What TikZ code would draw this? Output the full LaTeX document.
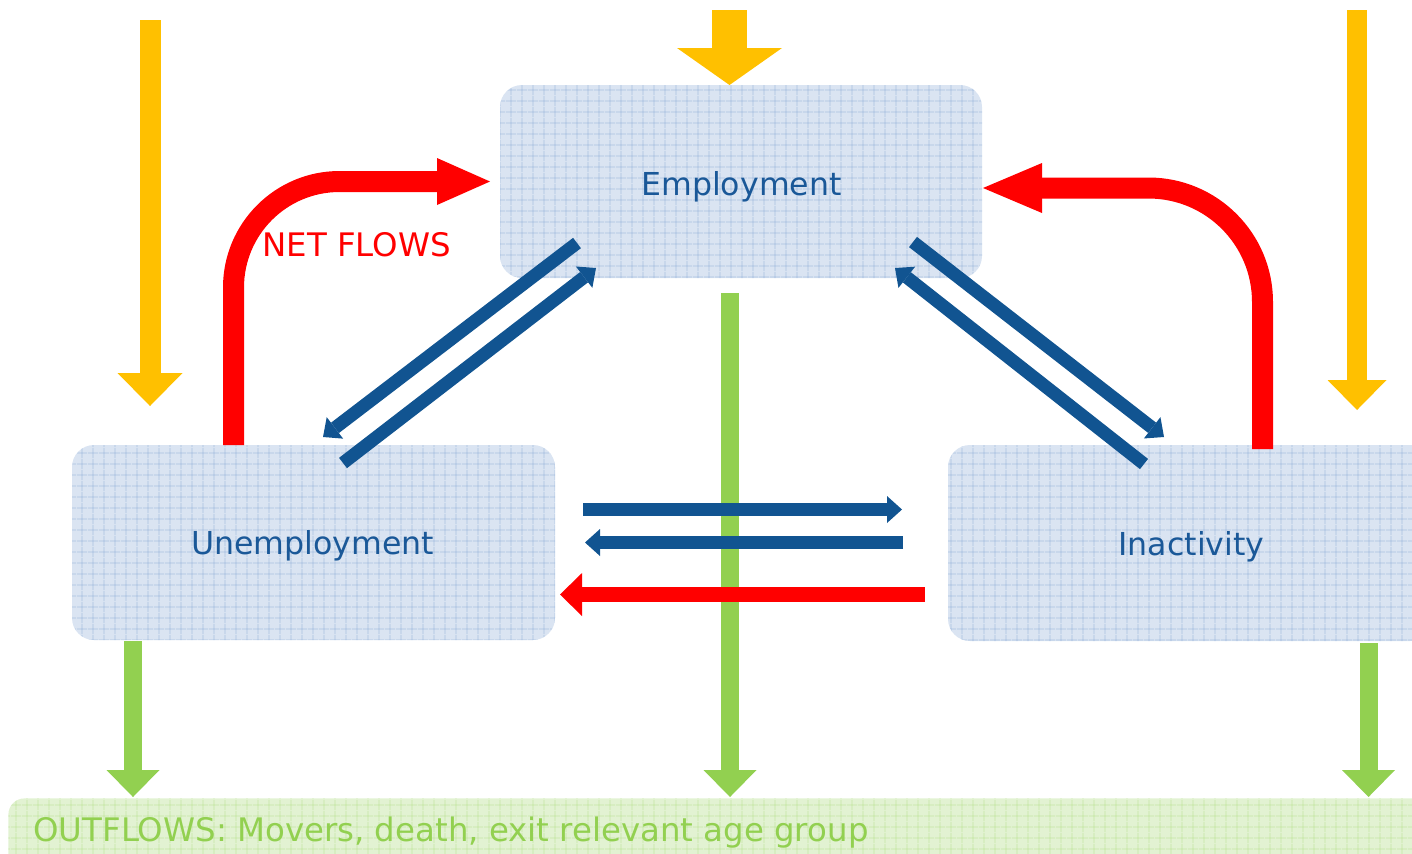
\documentclass[tikz,border=0pt]{standalone}
\usepackage{fontspec}
\setmainfont{DejaVu Sans}
\usetikzlibrary{arrows.meta,patterns.meta}

\definecolor{boxbase}{RGB}{218,228,242}
\definecolor{gridblue}{RGB}{168,192,224}
\definecolor{flowblue}{RGB}{17,84,145}
\definecolor{textblue}{RGB}{26,88,152}
\definecolor{inflow}{RGB}{255,192,0}
\definecolor{netred}{RGB}{255,0,0}
\definecolor{outgreen}{RGB}{146,208,80}
\definecolor{barbase}{RGB}{226,242,210}
\definecolor{gridgreen}{RGB}{196,230,162}

% fine grid texture used to fill the boxes
\tikzdeclarepattern{
  name=boxgrid,
  bottom left={(0pt,0pt)},
  top right={(5.5pt,5.5pt)},
  tile size={(5.5pt,5.5pt)},
  code={
    \draw[line width=0.4pt]
      (0pt,2.75pt) -- (5.5pt,2.75pt)
      (2.75pt,0pt) -- (2.75pt,5.5pt);
  }
}

\begin{document}
\begin{tikzpicture}[x=0.5pt,y=-0.5pt,
  state/.style={preaction={fill=boxbase}, pattern=boxgrid, pattern color=gridblue,
    draw=none, rounded corners=11pt, inner sep=0pt},
  statelabel/.style={anchor=base, text=textblue, inner sep=0pt,
    font=\fontsize{15.8}{19}\selectfont},
  outbar/.style={preaction={fill=barbase}, pattern=boxgrid, pattern color=gridgreen,
    draw=none, rounded corners=8pt, inner sep=0pt},
  % block arrows: thick shaft with a filled triangular head
  blockarrow/.style n args={4}{draw=#1, line width=#2,
    -{Triangle[length=#3, width=#4, line width=0pt]}},
  flow/.style={blockarrow={flowblue}{6.5pt}{7.5pt}{13.5pt}},
  inarrow/.style={blockarrow={inflow}{10.5pt}{16.5pt}{32.5pt}},
  outarrow/.style={blockarrow={outgreen}{9pt}{13.5pt}{26.5pt}},
]
\useasboundingbox (0,0) rectangle (1412,853);
\clip (0,0) rectangle (1412,853);

% labour-market states
\node[state, minimum width=241pt, minimum height=96.5pt] (emp) at (741,181.5) {};
\node[state, minimum width=241.5pt, minimum height=97.5pt] (unemp) at (313.5,542.5) {};
\node[state, minimum width=242pt, minimum height=98pt] (inact) at (1190,543) {};
\node[outbar, minimum width=720pt, minimum height=40pt, anchor=north west] (out) at (8,798) {};

\node[statelabel] (empl) at (741.5,195) {Employment};
\node[statelabel] (unempl) at (312.5,554) {Unemployment};
\node[statelabel] (inactl) at (1191.5,555) {Inactivity};
\node[anchor=base west, inner sep=0pt, text=outgreen,
  font=\fontsize{16.2}{19}\selectfont] (outl) at (33,841)
  {OUTFLOWS: Movers, death, exit relevant age group};
\node[anchor=base west, inner sep=0pt, text=netred,
  font=\fontsize{16.2}{19}\selectfont] (net) at (262,256) {NET FLOWS};

% end points of the flows
\coordinate (yl0) at (150,20);    \coordinate (yl1) at (150,406);
\coordinate (yt0) at (729.5,10);  \coordinate (yt1) at (729.5,85);
\coordinate (yr0) at (1357,10);   \coordinate (yr1) at (1357,410);

\coordinate (gc0) at (730,293);   \coordinate (gc1) at (730,797);
\coordinate (gl0) at (133,641);   \coordinate (gl1) at (133,797);
\coordinate (gr0) at (1368.5,643);\coordinate (gr1) at (1368.5,797);

\coordinate (rl0) at (233.5,445); \coordinate (rl1) at (490,181.5);
\coordinate (rr0) at (1262.5,449);\coordinate (rr1) at (983,188);
\coordinate (rb0) at (925,594.5); \coordinate (rb1) at (560,594.5);

\coordinate (eu0) at (577,243);   \coordinate (eu1) at (323,437);
\coordinate (ue0) at (343,463);   \coordinate (ue1) at (596,268);
\coordinate (ei0) at (913,242);   \coordinate (ei1) at (1164,437);
\coordinate (ie0) at (1144,464);  \coordinate (ie1) at (895,268);
\coordinate (ui0) at (583,509.5); \coordinate (ui1) at (902,509.5);
\coordinate (iu0) at (903,542.5); \coordinate (iu1) at (585,542.5);

% outflows
\draw[outarrow] (gc0) -- (gc1);
\draw[outarrow] (gl0) -- (gl1);
\draw[outarrow] (gr0) -- (gr1);

% inflows
\draw[inarrow] (yl0) -- (yl1);
\draw[blockarrow={inflow}{17.5pt}{18.5pt}{52.5pt}] (yt0) -- (yt1);
\draw[blockarrow={inflow}{10pt}{15pt}{29.5pt}] (yr0) -- (yr1);

% gross flows between states
\draw[flow] (eu0) -- (eu1);
\draw[flow] (ue0) -- (ue1);
\draw[flow] (ei0) -- (ei1);
\draw[flow] (ie0) -- (ie1);
\draw[flow] (ui0) -- (ui1);
\draw[flow] (iu0) -- (iu1);

% net flows
\draw[blockarrow={netred}{10.5pt}{26.5pt}{23.5pt}, rounded corners=53pt]
  (rl0) |- (rl1);
\draw[blockarrow={netred}{10.5pt}{29.5pt}{25pt}, rounded corners=57pt]
  (rr0) |- (rr1);
\draw[blockarrow={netred}{7.5pt}{11pt}{21.5pt}] (rb0) -- (rb1);
\end{tikzpicture}
\end{document}
